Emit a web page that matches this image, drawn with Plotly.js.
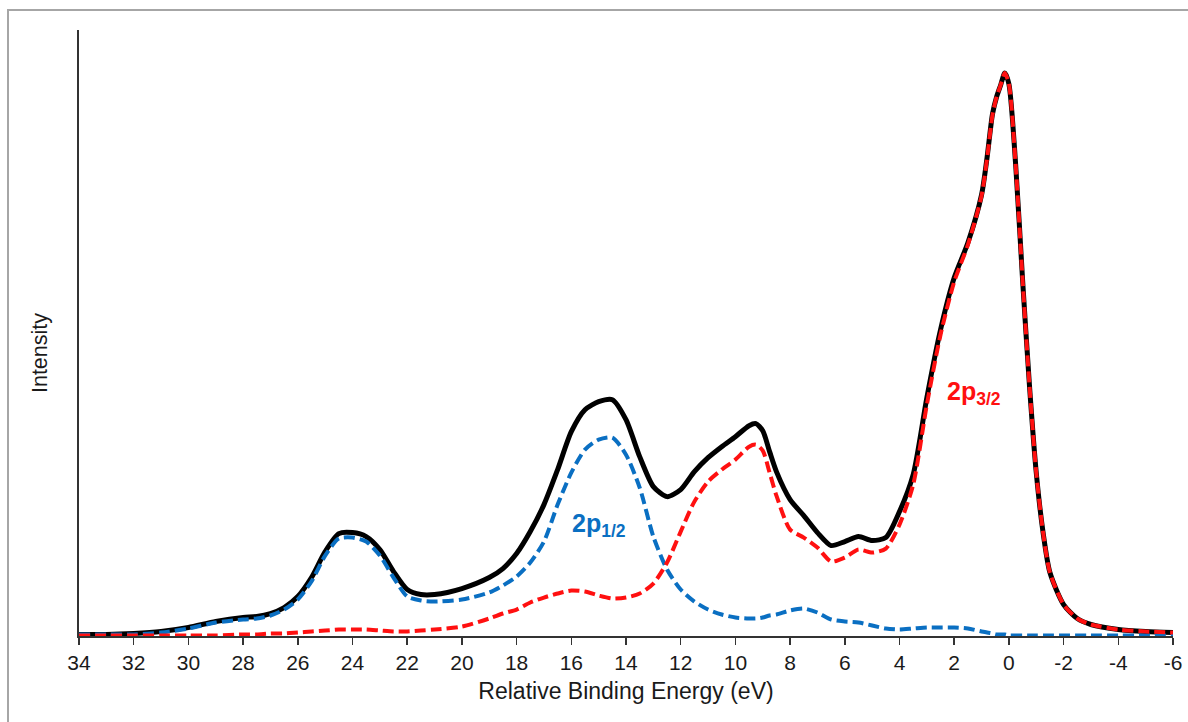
<!DOCTYPE html>
<html>
<head>
<meta charset="utf-8">
<script src="https://cdn.plot.ly/plotly-3.0.1.min.js"></script>
<style>
  html, body { margin: 0; padding: 0; background: #ffffff; }
  #wrap { position: relative; width: 1188px; height: 722px; overflow: hidden; }
  #chart { position: absolute; left: 0; top: 0; width: 1188px; height: 722px; }
  #frame { position: absolute; left: 7px; top: 9px; width: 1200px; height: 730px;
           border-left: 2px solid #a6a6a6; border-top: 2px solid #a6a6a6; pointer-events: none; }
</style>
</head>
<body>
<div id="wrap">
  <div id="chart"></div>
  <div id="frame"></div>
</div>
<script>
// Relative binding energy (eV)
const energy = [34, 33, 32, 31, 30, 29, 28, 27.5, 27, 26.5, 26, 25.5, 25, 24.5, 24, 23.5, 23, 22.5, 22, 21.5, 21,
  20, 19, 18.5, 18, 17.5, 17, 16.5, 16, 15.5, 15, 14.5, 14, 13.5, 13, 12.5, 12, 11.5, 11, 10.5, 10, 9.5, 9.25, 9, 8.75, 8.5, 8,
  7.5, 7, 6.5, 6, 5.5, 5, 4.5, 4, 3.5, 3, 2.5, 2, 1.5, 1, 0.8, 0.6, 0.45, 0.3, 0.15, 0, -0.25, -0.5, -0.75, -1, -1.25, -1.5,
  -2, -2.5, -3, -4, -5, -6];

// Total spectrum (arbitrary intensity units)
const total = [1, 1, 2, 4, 8, 14, 18, 19, 22, 28, 39, 58, 84, 102, 103, 99, 86, 64, 46, 41, 41,
  47, 58, 67, 82, 104, 131, 166, 204, 226, 234, 236, 216, 179, 149, 139, 146, 164, 178, 189, 199, 210, 212, 205, 184, 164, 136,
  120, 103, 90, 94, 99, 95, 98, 124, 161, 238, 306, 358, 393, 441, 478, 522, 539, 551, 563, 552, 470, 356, 251, 163, 103, 63,
  31, 17, 11, 6, 4, 3];

// 2p3/2 component
const p32 = [0, 0, 0, 0, 0, 0, 1, 1, 2, 2, 3, 4, 5, 6, 6, 6, 5, 4, 4, 5, 6,
  9, 17, 22, 26, 33, 38, 42, 45, 44, 40, 37, 38, 42, 52, 73, 104, 134, 154, 166, 176, 189, 191, 185, 163, 140, 106,
  98, 88, 74, 78, 86, 83, 87, 111, 151, 231, 301, 354, 391, 440, 477, 521, 539, 551, 563, 552, 470, 356, 251, 163, 103, 63,
  31, 17, 11, 6, 4, 3];

// 2p1/2 component
const p12 = [1, 1, 1, 3, 7, 13, 16, 17, 20, 26, 36, 54, 80, 97, 98, 94, 80, 58, 39, 35, 34,
  36, 43, 50, 59, 73, 94, 131, 163, 186, 196, 198, 181, 148, 99, 66, 46, 34, 26, 21, 18, 17, 17, 18, 20, 21, 25,
  27, 23, 16, 14, 13, 10, 7, 6, 7, 8, 8, 8, 7, 4, 3, 2, 1, 1, 1, 0, 0, 0, 0, 0, 0, 0,
  0, 0, 0, 0, 0, 0];

const tickVals = [34, 32, 30, 28, 26, 24, 22, 20, 18, 16, 14, 12, 10, 8, 6, 4, 2, 0, -2, -4, -6];
const tickLabels = ['34', '32', '30', '28', '26', '24', '22', '20', '18', '16', '14', '12', '10', '8', '6', '4', '2', '0', '-2', '-4', '-6'];

const labelNames = ['2p<sub>1/2</sub>', '2p<sub>3/2</sub>'];
const labelX = [16.06, 2.35];
const labelY = [111, 243];

const BLUE = '#0a6fc2';
const RED = '#ff1010';
const FONT = 'Liberation Sans, Arial, sans-serif';

const traces = [
  { x: energy, y: total, type: 'scatter', mode: 'lines', name: 'Total',
    line: { color: '#000000', width: 5, shape: 'spline', smoothing: 0.7 } },
  { x: energy, y: p12, type: 'scatter', mode: 'lines', name: '2p1/2',
    line: { color: BLUE, width: 4, dash: '11px,5px', shape: 'spline', smoothing: 0.7 } },
  { x: energy, y: p32, type: 'scatter', mode: 'lines', name: '2p3/2',
    line: { color: RED, width: 4, dash: '11px,5px', shape: 'spline', smoothing: 0.7 } }
];

const layout = {
  width: 1188, height: 722,
  margin: { l: 79, r: 15, t: 30, b: 86 },
  paper_bgcolor: '#ffffff', plot_bgcolor: '#ffffff',
  showlegend: false,
  font: { family: FONT, color: '#1a1a1a' },
  xaxis: {
    range: [34, -6], tickmode: 'array', tickvals: tickVals, ticktext: tickLabels,
    ticks: 'outside', ticklen: 7, tickwidth: 1.5, tickcolor: '#333333',
    showline: true, linecolor: '#333333', linewidth: 2,
    showgrid: false, zeroline: false,
    tickfont: { family: FONT, size: 21, color: '#1a1a1a' },
    title: { text: 'Relative Binding Energy (eV)', font: { family: FONT, size: 23, color: '#1a1a1a' }, standoff: 10 }
  },
  yaxis: {
    range: [-0.5, 606],
    showline: true, linecolor: '#333333', linewidth: 2,
    showticklabels: false, ticks: '', showgrid: false, zeroline: false
  },
  annotations: [
    { x: -0.0356, y: 0.467, xref: 'paper', yref: 'paper', text: 'Intensity', textangle: -90, showarrow: false,
      xanchor: 'center', yanchor: 'middle', font: { family: FONT, size: 21.5, color: '#1a1a1a' } },
    { x: labelX[0], y: labelY[0], xref: 'x', yref: 'y', text: '<b>' + labelNames[0] + '</b>', showarrow: false,
      xanchor: 'left', yanchor: 'middle', font: { family: FONT, size: 25, color: BLUE } },
    { x: labelX[1], y: labelY[1], xref: 'x', yref: 'y', text: '<b>' + labelNames[1] + '</b>', showarrow: false,
      xanchor: 'left', yanchor: 'middle', font: { family: FONT, size: 25, color: RED } }
  ]
};

Plotly.newPlot('chart', traces, layout, { staticPlot: true, displayModeBar: false });
</script>
</body>
</html>
